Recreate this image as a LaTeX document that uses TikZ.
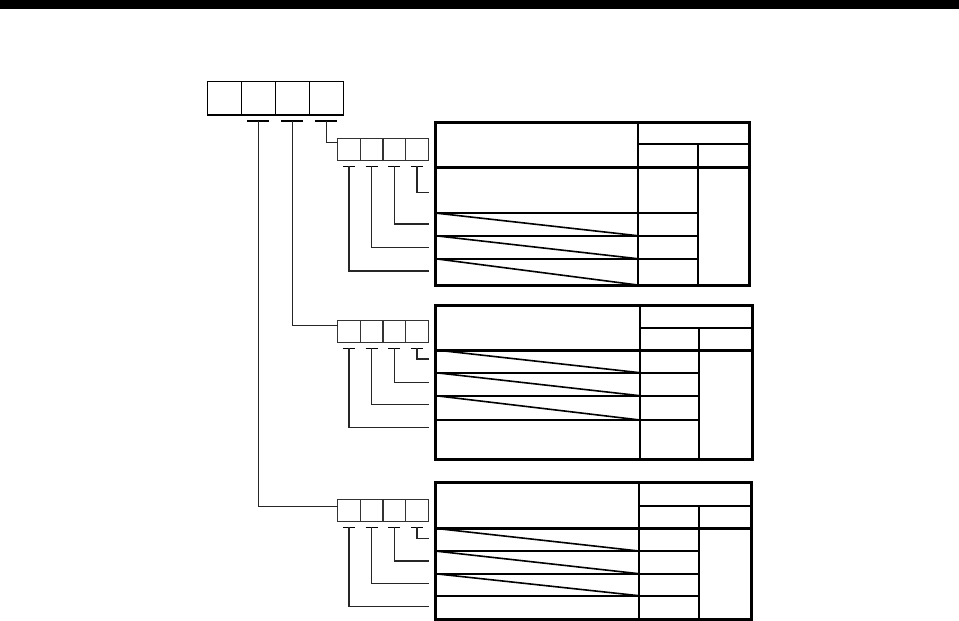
\documentclass[tikz,border=0pt]{standalone}
\usetikzlibrary{calc}
\begin{document}
\begin{tikzpicture}[x=1pt,y=-1pt,
  bigcell/.style={draw, line width=1.3pt, minimum width=34pt, minimum height=33.3pt, inner sep=0pt, outer sep=0pt},
  smallcell/.style={draw=black!80, line width=1.2pt, minimum width=22.65pt, minimum height=22pt, inner sep=0pt, outer sep=0pt},
  conn/.style={line width=1.2pt, draw=black!85},
  tbar/.style={line width=1.2pt},
  outerln/.style={line width=3pt},
  innerln/.style={line width=2pt},
  diagln/.style={line width=1.6pt}]
\useasboundingbox (0,0) rectangle (959,621);
\fill (0,0) rectangle (959,9);
% top selector box
\foreach \i/\x in {1/224.3,2/258.3,3/292.3,4/326.3}
  \node[bigcell] (T\i) at (\x,98.3) {};
\foreach \i in {2,3,4} {
  \coordinate (T\i b) at ($(T\i.south)+(0,6)$);
  \draw[tbar] ([xshift=-11pt]T\i b) -- ([xshift=11pt]T\i b);
}
% small boxes
\foreach \k/\y in {1/149.3,2/331.1,3/510.1}
  \foreach \j/\x in {1/349.0,2/371.7,3/394.4,4/417.0} {
    \node[smallcell] (S\k\j) at (\x,\y) {};
    \coordinate (S\k\j b) at ($(S\k\j.south)+(0,6)$);
    \draw[tbar] ([xshift=-6pt]S\k\j b) -- ([xshift=6pt]S\k\j b);
  }
% connectors from top box to small boxes
\draw[conn] (T4b) |- ([yshift=6.6pt]S11.west);
\draw[conn] (T3b) |- ([yshift=6pt]S21.west);
\draw[conn] (T2b) |- ([yshift=3.4pt]S31.west);
% leader end points
\foreach \k/\a/\b/\c/\d in {1/192.3/224/247.3/271, 2/359/382.3/404.3/427.7, 3/538.3/561/583.7/606.7} {
  \coordinate (L\k4) at (429,\a);
  \coordinate (L\k3) at (429,\b);
  \coordinate (L\k2) at (429,\c);
  \coordinate (L\k1) at (429,\d);
  \foreach \j in {1,2,3,4}
    \draw[conn] (S\k\j b) |- (L\k\j);
}
% table 1
\draw[innerln] (637.7,122.3) -- (637.7,285);
\draw[innerln] (637.7,144.3) -- (749.3,144.3);
\draw[innerln] (698,144.3) -- (698,285);
\draw[outerln] (435,167) -- (749.3,167);
\foreach \r in {213,235.7,258.7} \draw[innerln] (435,\r) -- (698,\r);
\draw[diagln] (435,213) -- (637.7,235.7);
\draw[diagln] (435,235.7) -- (637.7,258.7);
\draw[diagln] (435,258.7) -- (637.7,285);
\draw[outerln] (435,122.3) rectangle (749.3,285);
% table 2
\draw[innerln] (640,305) -- (640,459.3);
\draw[innerln] (640,327.7) -- (752.7,327.7);
\draw[innerln] (699.3,327.7) -- (699.3,459.3);
\draw[outerln] (435.7,350) -- (752.7,350);
\foreach \r in {372.7,395.7,420} \draw[innerln] (435.7,\r) -- (699.3,\r);
\draw[diagln] (435.7,350) -- (640,372.7);
\draw[diagln] (435.7,372.7) -- (640,395.7);
\draw[diagln] (435.7,395.7) -- (640,420);
\draw[outerln] (435.7,305) rectangle (752.7,459.3);
% table 3
\draw[innerln] (639,482.3) -- (639,619);
\draw[innerln] (639,505.7) -- (751.7,505.7);
\draw[innerln] (699,505.7) -- (699,619);
\draw[outerln] (435,528.3) -- (751.7,528.3);
\foreach \r in {551,573.7,595.7} \draw[innerln] (435,\r) -- (699,\r);
\draw[diagln] (435,528.3) -- (639,551);
\draw[diagln] (435,551) -- (639,573.7);
\draw[diagln] (435,573.7) -- (639,595.7);
\draw[outerln] (435,482.3) rectangle (751.7,619);
\end{tikzpicture}
\end{document}
